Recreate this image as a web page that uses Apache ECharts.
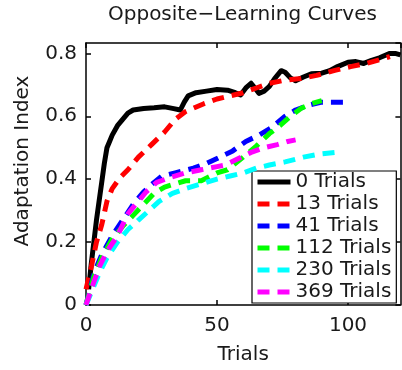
<!DOCTYPE html>
<html>
<head>
<meta charset="utf-8">
<script src="https://cdn.jsdelivr.net/npm/echarts@6/dist/echarts.min.js"></script>
<style>
  html, body { margin: 0; padding: 0; background: #fff; }
  #chart { width: 402px; height: 370px; }
</style>
</head>
<body>
<div id="chart"></div>
<script>
// Adaptation index vs. trial number, one curve per amount of prior training
const titleText = 'Opposite\u2212Learning Curves';
const xName = 'Trials';
const yName = 'Adaptation Index';

const legendNames = ['0 Trials', '13 Trials', '41 Trials', '112 Trials', '230 Trials', '369 Trials'];
const seriesColors = ['#000000', '#ff0000', '#0000ff', '#00ff00', '#00ffff', '#ff00ff'];

// [trial, adaptation index]
const trials0 = [
  [1, 0.05], [2, 0.13], [3, 0.2], [4, 0.27], [5, 0.33], [6, 0.39], [7, 0.45], [8, 0.5],
  [9, 0.52], [10, 0.54], [12, 0.57], [14, 0.59], [16, 0.61], [18, 0.62], [22, 0.625],
  [26, 0.627], [30, 0.63], [33, 0.625], [36, 0.62], [37.5, 0.645], [39, 0.665], [42, 0.675],
  [46, 0.68], [50, 0.685], [54, 0.683], [57, 0.675], [59, 0.668], [61, 0.69], [63, 0.705],
  [64.5, 0.69], [66, 0.673], [68, 0.68], [70, 0.695], [72, 0.72], [74.5, 0.745], [76, 0.74],
  [78, 0.722], [80, 0.713], [83, 0.725], [86, 0.735], [90, 0.737], [93, 0.745], [96, 0.758],
  [100, 0.772], [103, 0.774], [106, 0.768], [109, 0.778], [112, 0.786], [116, 0.8],
  [118, 0.8], [120, 0.795]
];
const trials13 = [
  [0, 0.05], [2, 0.12], [4, 0.2], [6, 0.255], [8, 0.33], [10, 0.37], [13, 0.405], [16, 0.43],
  [20, 0.47], [25, 0.51], [30, 0.55], [34, 0.59], [38, 0.615], [45, 0.64], [50, 0.655],
  [55, 0.665], [60, 0.675], [65, 0.69], [70, 0.705], [76, 0.715], [82, 0.72], [88, 0.73],
  [95, 0.746], [101, 0.758], [107, 0.768], [112, 0.78], [116, 0.79]
];
const trials41 = [
  [0, 0], [3, 0.1], [6, 0.16], [10, 0.22], [14, 0.27], [18, 0.32], [22, 0.36], [26, 0.39],
  [29, 0.41], [34, 0.42], [41, 0.435], [46, 0.45], [51, 0.47], [56, 0.49], [61, 0.52],
  [66, 0.54], [71, 0.565], [76, 0.6], [80, 0.62], [85, 0.635], [90, 0.645], [95, 0.645],
  [100, 0.645]
];
const trials112 = [
  [0, 0], [3, 0.09], [6, 0.15], [10, 0.21], [14, 0.25], [18, 0.285], [22, 0.32], [26, 0.355],
  [30, 0.375], [34, 0.385], [38, 0.395], [44, 0.395], [50, 0.42], [54, 0.43], [60, 0.47],
  [65, 0.505], [70, 0.545], [74, 0.57], [78, 0.6], [82, 0.625], [86, 0.64], [90, 0.65]
];
const trials230 = [
  [0, 0], [2, 0.04], [5, 0.1], [8, 0.15], [12, 0.2], [16, 0.24], [20, 0.27], [24, 0.3],
  [28, 0.33], [33, 0.355], [38, 0.37], [44, 0.385], [50, 0.4], [55, 0.41], [60, 0.42],
  [65, 0.435], [70, 0.445], [76, 0.455], [83, 0.47], [89, 0.48], [95, 0.485]
];
const trials369 = [
  [0, 0], [2, 0.05], [5, 0.12], [8, 0.17], [12, 0.22], [16, 0.29], [19, 0.32], [23, 0.36],
  [27, 0.39], [32, 0.405], [38, 0.42], [44, 0.43], [50, 0.44], [53, 0.445], [58, 0.465],
  [63, 0.485], [68, 0.5], [73, 0.51], [77, 0.52], [80, 0.525]
];

const curves = [trials0, trials13, trials41, trials112, trials230, trials369];

const FONT = 'DejaVu Sans';
const INK = '#000';
const TEXT = '#1a1a1a';

const series = curves.map((data, i) => ({
  name: legendNames[i],
  type: 'line',
  data: data,
  symbol: 'none',
  smooth: false,
  z: 2 + i,
  lineStyle: {
    color: seriesColors[i],
    width: 5,
    type: i === 0 ? 'solid' : [12, 8],
    cap: 'butt',
    join: 'round'
  },
  itemStyle: { color: seriesColors[i] }
}));

const chart = echarts.init(document.getElementById('chart'), null, { renderer: 'canvas' });

const axisLineStyle = { color: INK, width: 1.5 };

chart.setOption({
  animation: false,
  backgroundColor: '#fff',
  textStyle: { fontFamily: FONT },
  title: {
    text: titleText,
    left: 108,
    top: 5,
    padding: 0,
    textStyle: { fontFamily: FONT, fontSize: 20, fontWeight: 'normal', color: TEXT }
  },
  grid: { left: 86, right: 1.6, top: 43, bottom: 63.3, containLabel: false },
  xAxis: [
    {
      type: 'value', min: 0, max: 120, interval: 50,
      name: xName, nameLocation: 'middle', nameGap: 40,
      nameTextStyle: { fontFamily: FONT, fontSize: 20, color: TEXT },
      axisLine: { show: true, onZero: false, lineStyle: axisLineStyle },
      axisTick: { show: true, inside: true, length: 5, lineStyle: axisLineStyle },
      axisLabel: { margin: 11, fontFamily: FONT, fontSize: 20, color: TEXT, showMaxLabel: false },
      splitLine: { show: false }
    },
    {
      type: 'value', position: 'top', min: 0, max: 120, interval: 50,
      axisLine: { show: true, onZero: false, lineStyle: axisLineStyle },
      axisTick: { show: true, inside: true, length: 5, lineStyle: axisLineStyle },
      axisLabel: { show: false },
      splitLine: { show: false }
    }
  ],
  yAxis: [
    {
      type: 'value', min: 0, max: 0.833, interval: 0.2,
      name: yName, nameLocation: 'middle', nameGap: 53, nameRotate: 90,
      nameTextStyle: { fontFamily: FONT, fontSize: 20, color: TEXT, padding: [0, 0, 0, 26] },
      axisLine: { show: true, onZero: false, lineStyle: axisLineStyle },
      axisTick: { show: true, inside: true, length: 5, lineStyle: axisLineStyle },
      axisLabel: {
        margin: 9, fontFamily: FONT, fontSize: 20, color: TEXT, showMaxLabel: false,
        formatter: v => (Math.round(v * 10) / 10).toString()
      },
      splitLine: { show: false }
    },
    {
      type: 'value', position: 'right', min: 0, max: 0.833, interval: 0.2,
      axisLine: { show: true, onZero: false, lineStyle: axisLineStyle },
      axisTick: { show: true, inside: true, length: 5, lineStyle: axisLineStyle },
      axisLabel: { show: false },
      splitLine: { show: false }
    }
  ],
  legend: {
    orient: 'vertical',
    left: 252,
    top: 171,
    padding: [1, 5, 1, 3],
    itemGap: 2,
    itemWidth: 33,
    itemHeight: 14,
    itemTextGap: 10,
    align: 'left',
    backgroundColor: '#fff',
    borderColor: INK,
    borderWidth: 1.2,
    borderRadius: 0,
    data: legendNames,
    itemStyle: { opacity: 0 },
    lineStyle: { width: 5 },
    textStyle: { fontFamily: FONT, fontSize: 20, color: TEXT, lineHeight: 20 }
  },
  series: series
});
</script>
</body>
</html>
